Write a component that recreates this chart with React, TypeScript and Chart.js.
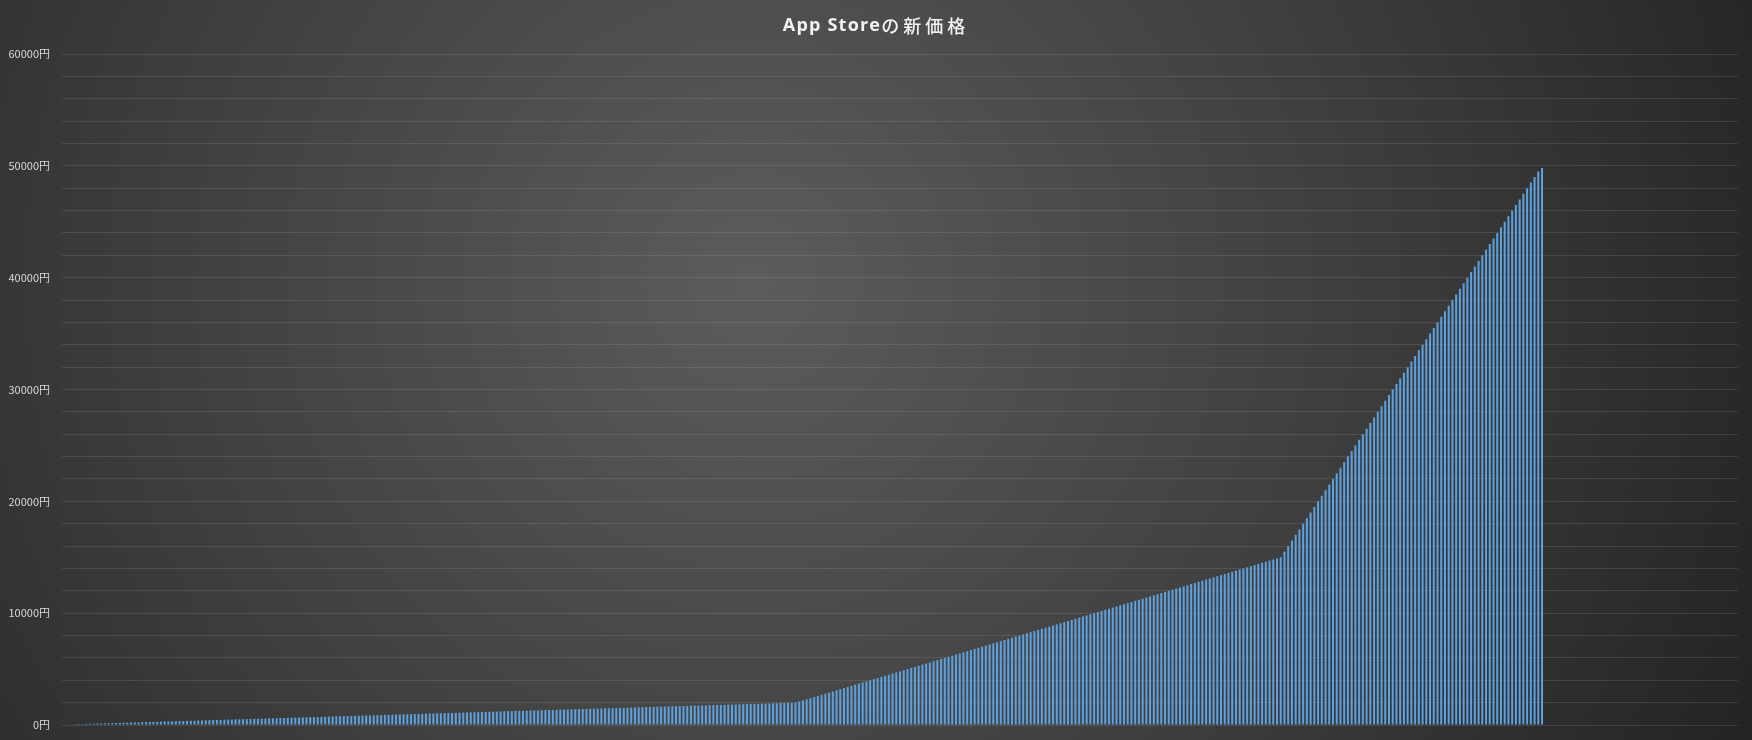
import { useEffect, useRef } from 'react';
import { Chart, registerables } from 'chart.js';

Chart.register(...registerables);

const TITLE_LATIN = 'App Store';
const TITLE_CJK = 'の新価格';
const CATEGORY_COUNT = 449;

// ¥10 steps
const PRICES_STEP_10 = [
  40, 50, 60, 70, 80, 90, 100, 110, 120, 130, 140, 150, 160, 170, 180, 190, 200, 210, 220, 230,
  240, 250, 260, 270, 280, 290, 300, 310, 320, 330, 340, 350, 360, 370, 380, 390, 400, 410, 420, 430,
  440, 450, 460, 470, 480, 490, 500, 510, 520, 530, 540, 550, 560, 570, 580, 590, 600, 610, 620, 630,
  640, 650, 660, 670, 680, 690, 700, 710, 720, 730, 740, 750, 760, 770, 780, 790, 800, 810, 820, 830,
  840, 850, 860, 870, 880, 890, 900, 910, 920, 930, 940, 950, 960, 970, 980, 990, 1000, 1010, 1020, 1030,
  1040, 1050, 1060, 1070, 1080, 1090, 1100, 1110, 1120, 1130, 1140, 1150, 1160, 1170, 1180, 1190, 1200, 1210, 1220, 1230,
  1240, 1250, 1260, 1270, 1280, 1290, 1300, 1310, 1320, 1330, 1340, 1350, 1360, 1370, 1380, 1390, 1400, 1410, 1420, 1430,
  1440, 1450, 1460, 1470, 1480, 1490, 1500, 1510, 1520, 1530, 1540, 1550, 1560, 1570, 1580, 1590, 1600, 1610, 1620, 1630,
  1640, 1650, 1660, 1670, 1680, 1690, 1700, 1710, 1720, 1730, 1740, 1750, 1760, 1770, 1780, 1790, 1800, 1810, 1820, 1830,
  1840, 1850, 1860, 1870, 1880, 1890, 1900, 1910, 1920, 1930, 1940, 1950, 1960, 1970, 1980, 1990, 2000,
];

// ¥100 steps
const PRICES_STEP_100 = [
  2100, 2200, 2300, 2400, 2500, 2600, 2700, 2800, 2900, 3000, 3100, 3200, 3300, 3400, 3500, 3600, 3700, 3800, 3900, 4000,
  4100, 4200, 4300, 4400, 4500, 4600, 4700, 4800, 4900, 5000, 5100, 5200, 5300, 5400, 5500, 5600, 5700, 5800, 5900, 6000,
  6100, 6200, 6300, 6400, 6500, 6600, 6700, 6800, 6900, 7000, 7100, 7200, 7300, 7400, 7500, 7600, 7700, 7800, 7900, 8000,
  8100, 8200, 8300, 8400, 8500, 8600, 8700, 8800, 8900, 9000, 9100, 9200, 9300, 9400, 9500, 9600, 9700, 9800, 9900, 10000,
  10100, 10200, 10300, 10400, 10500, 10600, 10700, 10800, 10900, 11000, 11100, 11200, 11300, 11400, 11500, 11600, 11700, 11800, 11900, 12000,
  12100, 12200, 12300, 12400, 12500, 12600, 12700, 12800, 12900, 13000, 13100, 13200, 13300, 13400, 13500, 13600, 13700, 13800, 13900, 14000,
  14100, 14200, 14300, 14400, 14500, 14600, 14700, 14800, 14900, 15000,
];

// ¥500 steps
const PRICES_STEP_500 = [
  15500, 16000, 16500, 17000, 17500, 18000, 18500, 19000, 19500, 20000,
  20500, 21000, 21500, 22000, 22500, 23000, 23500, 24000, 24500, 25000,
  25500, 26000, 26500, 27000, 27500, 28000, 28500, 29000, 29500, 30000,
  30500, 31000, 31500, 32000, 32500, 33000, 33500, 34000, 34500, 35000,
  35500, 36000, 36500, 37000, 37500, 38000, 38500, 39000, 39500, 40000,
  40500, 41000, 41500, 42000, 42500, 43000, 43500, 44000, 44500, 45000,
  45500, 46000, 46500, 47000, 47500, 48000, 48500, 49000, 49500, 49800,
];

const Y_MIN = 0;
const Y_MAX = 60000;
const Y_GRID_STEP = 2000;
const Y_LABEL_STEP = 10000;
const Y_UNIT = '円';

export default function App() {
  const ref = useRef<HTMLCanvasElement>(null);

  useEffect(() => {
    document.body.style.margin = '0';
    document.body.style.background = '#242424';
    const canvas = ref.current;
    if (!canvas) return;

    const prices = [...PRICES_STEP_10, ...PRICES_STEP_100, ...PRICES_STEP_500];
    const labels = Array.from({ length: CATEGORY_COUNT }, (_, i) => `${i + 1}`);

    const background = {
      id: 'radialBackground',
      beforeDraw(chart: any) {
        const { ctx, width, height } = chart;
        ctx.save();
        const cx = width * 0.43;
        const cy = height * 0.38;
        const g = ctx.createRadialGradient(cx, cy, 0, cx, cy, width * 0.62);
        g.addColorStop(0, '#5c5c5c');
        g.addColorStop(0.55, '#3e3e3e');
        g.addColorStop(1, '#242424');
        ctx.fillStyle = g;
        ctx.fillRect(0, 0, width, height);
        ctx.restore();
      },
    };

    const titlePlugin = {
      id: 'titleText',
      afterDraw(chart: any) {
        const { ctx, width } = chart;
        ctx.save();
        ctx.fillStyle = '#f2f2f2';
        ctx.textAlign = 'left';
        ctx.textBaseline = 'middle';
        const latinFont = 'bold 18px "Open Sans", "Noto Sans CJK JP", sans-serif';
        const cjkFont = '500 18px "Noto Sans CJK JP", sans-serif';
        const latinSpacing = 1.2;
        const cjkSpacing = 4;
        const setSpacing = (px: number) => {
          try { (ctx as any).letterSpacing = `${px}px`; } catch (e) {}
        };
        ctx.font = latinFont;
        setSpacing(latinSpacing);
        const wLatin = ctx.measureText(TITLE_LATIN).width;
        ctx.font = cjkFont;
        setSpacing(cjkSpacing);
        const wCjk = ctx.measureText(TITLE_CJK).width;
        const total = wLatin + wCjk;
        let x = width / 2 - total / 2;
        const y = 26;
        ctx.font = latinFont;
        setSpacing(latinSpacing);
        ctx.fillText(TITLE_LATIN, x, y);
        x += wLatin;
        ctx.font = cjkFont;
        setSpacing(cjkSpacing);
        ctx.fillText(TITLE_CJK, x, y);
        ctx.restore();
      },
    };

    const chart = new Chart(canvas, {
      type: 'bar',
      data: {
        labels,
        datasets: [
          {
            data: prices,
            backgroundColor: '#5ea0dc',
            borderWidth: 0,
            barPercentage: 0.55,
            categoryPercentage: 1,
          },
        ],
      },
      options: {
        responsive: false,
        animation: false,
        devicePixelRatio: 1,
        layout: { padding: { top: 54, bottom: 15, right: 14, left: 0 } },
        plugins: {
          legend: { display: false },
          tooltip: { enabled: false },
          title: { display: false },
        },
        scales: {
          x: { display: false },
          y: {
            min: Y_MIN,
            max: Y_MAX,
            afterFit(scale: any) {
              scale.width = 62;
              scale.paddingTop = 7;
              scale.paddingBottom = 7;
            },
            border: { display: false },
            grid: { color: 'rgba(255,255,255,0.10)', drawTicks: false, lineWidth: 1 },
            ticks: {
              stepSize: Y_GRID_STEP,
              autoSkip: false,
              padding: 12,
              color: '#d9d9d9',
              font: { size: 11, family: '"Noto Sans CJK JP", "Noto Sans", sans-serif' },
              callback: (v: any) => (Number(v) % Y_LABEL_STEP === 0 ? `${v}${Y_UNIT}` : ''),
            },
          },
        },
      },
      plugins: [background, titlePlugin],
    });

    return () => chart.destroy();
  }, []);

  return <canvas ref={ref} width={1752} height={740} style={{ display: 'block' }} />;
}
